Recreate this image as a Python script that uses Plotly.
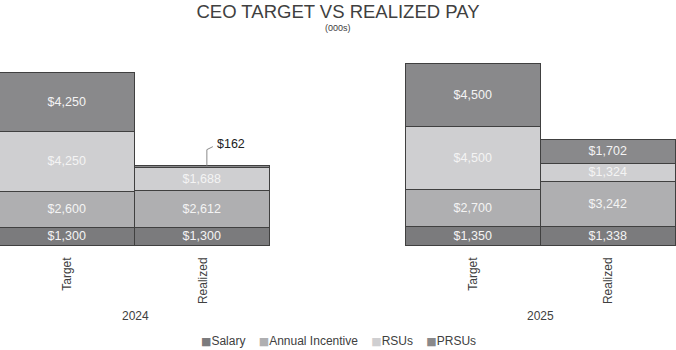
import plotly.graph_objects as go

# ---- data ----
years = ["2024", "2025"]
bar_labels = ["Target", "Realized", "Target", "Realized"]
bar_pos = [0.5, 1.5, 3.5, 4.5]
year_pos = [1.0, 4.0]
salary = [1300, 1300, 1350, 1338]
annual_incentive = [2600, 2612, 2700, 3242]
rsus = [4250, 1688, 4500, 1324]
prsus = [4250, 162, 4500, 1702]

series = [
    ("Salary", salary, "#7b7b7d"),
    ("Annual Incentive", annual_incentive, "#afafb1"),
    ("RSUs", rsus, "#cfcfd1"),
    ("PRSUs", prsus, "#89898b"),
]

FONT = "Liberation Sans, Arial, sans-serif"
TXT = "#404040"

fig = go.Figure()
for name, vals, col in series:
    texts = ["" if v < 500 else f"${v:,}" for v in vals]
    fig.add_trace(go.Bar(
        x=bar_pos, y=vals, name=name, width=1,
        marker=dict(color=col, line=dict(color="#404040", width=1.5)),
        text=texts, textposition="inside", insidetextanchor="middle",
        textfont=dict(color="#f4f4f4", size=12.5, family=FONT),
        constraintext="none", hoverinfo="name+y", showlegend=False,
    ))

# small PRSU call-out for 2024 realized
totals = [a + b + c + d for a, b, c, d in zip(salary, annual_incentive, rsus, prsus)]
call_x = bar_pos[1] + 0.03
fig.add_shape(type="path", xref="x", yref="y", xsizemode="pixel", ysizemode="pixel",
              xanchor=call_x, yanchor=totals[1], path="M0,0 L0,16 L6,19",
              line=dict(color="#8a8a8a", width=1))
fig.add_annotation(
    x=call_x, y=totals[1], text=f"${prsus[1]:,}", showarrow=False,
    xanchor="left", yanchor="middle", xshift=8, yshift=22,
    font=dict(size=12.5, color="#222222", family=FONT),
)

for yr, xp in zip(years, year_pos):
    fig.add_annotation(x=xp, y=-0.34, xref="x", yref="paper", text=yr,
                       showarrow=False, yanchor="middle",
                       font=dict(size=12, color=TXT, family=FONT))

fig.add_annotation(x=0.5, y=1.058, xref="paper", yref="paper", text="(000s)",
                   showarrow=False, yanchor="middle",
                   font=dict(size=9, color=TXT, family=FONT))

# compact legend as text
legend_parts = []
for name, _, col in series:
    legend_parts.append(
        f"<span style='color:{col};font-family:DejaVu Sans;font-size:11px'>■</span>{name}")
fig.add_annotation(x=0.5, y=-0.461, xref="paper", yref="paper",
                   text="&nbsp;&nbsp;&nbsp;&nbsp;".join(legend_parts),
                   showarrow=False, yanchor="middle", xanchor="center",
                   font=dict(size=12, color=TXT, family=FONT))

fig.update_layout(
    width=676, height=350,
    margin=dict(l=0, r=0, t=40, b=104),
    paper_bgcolor="white", plot_bgcolor="white",
    barmode="stack", bargap=0,
    title=dict(text="CEO TARGET VS REALIZED PAY", x=0.5, xanchor="center",
               y=1 - 12 / 350, yanchor="middle",
               font=dict(size=18.5, color=TXT, family=FONT)),
    xaxis=dict(range=[0, 5], tickvals=bar_pos, ticktext=bar_labels,
               tickangle=-90, showgrid=False, zeroline=False, showline=False,
               ticks="", ticklabelstandoff=8,
               tickfont=dict(size=12, color=TXT, family=FONT)),
    yaxis=dict(range=[0, 14770], visible=False),
    showlegend=False,
)

fig.write_html("out.html")
